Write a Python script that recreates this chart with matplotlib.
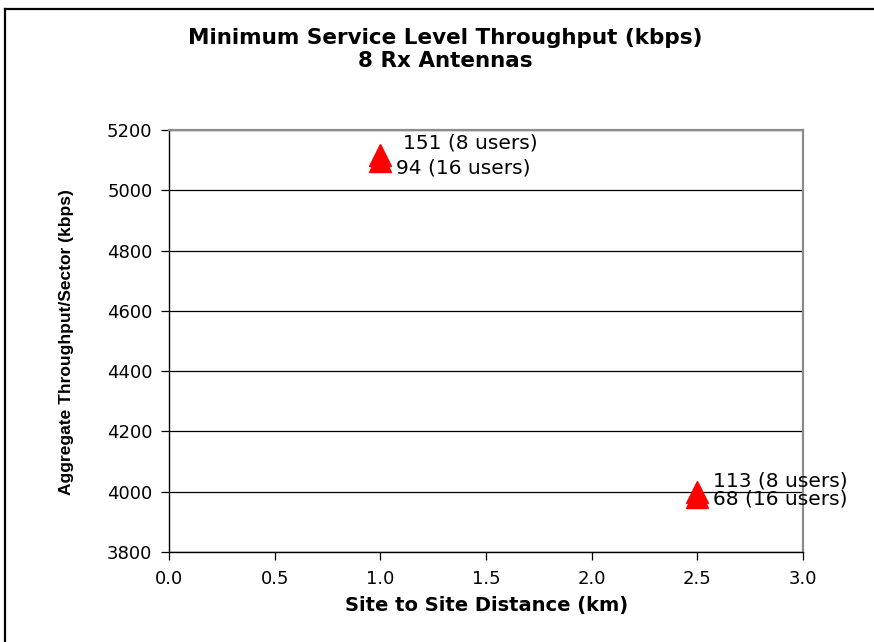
import matplotlib
matplotlib.use("Agg")
import matplotlib.pyplot as plt
from matplotlib.lines import Line2D

distance_km = [1.0, 2.5]
throughput_8_users = [5117, 4000]
throughput_16_users = [5098, 3982]
labels_8_users = ["151 (8 users)", "113 (8 users)"]
labels_16_users = ["94 (16 users)", "68 (16 users)"]
y_ticks = [3800, 4000, 4200, 4400, 4600, 4800, 5000, 5200]
x_ticks = [0.0, 0.5, 1.0, 1.5, 2.0, 2.5, 3.0]

plt.rcParams['font.family'] = ['DejaVu Sans']

W, H = 874, 642
fig = plt.figure(figsize=(W / 100, H / 100), dpi=100)
fig.patch.set_facecolor("white")

# outer frame (left and top edges visible)
fig.add_artist(Line2D([5 / W, 5 / W], [0, 1 - 9 / H], transform=fig.transFigure,
                      color="black", lw=1.6))
fig.add_artist(Line2D([5 / W, 1], [1 - 9 / H, 1 - 9 / H], transform=fig.transFigure,
                      color="black", lw=1.6))

ax = fig.add_axes([169 / W, 1 - 552 / H, (803 - 169) / W, (552 - 130) / H])
ax.set_xlim(0, 3.0)
ax.set_ylim(3800, 5200)
ax.set_xticks(x_ticks)
ax.set_xticklabels([f"{v:.1f}" for v in x_ticks])
ax.set_yticks(y_ticks)
ax.set_yticklabels([str(v) for v in y_ticks])
ax.grid(axis="y", color="black", lw=0.9)
ax.set_axisbelow(True)

for s in ["left", "bottom"]:
    ax.spines[s].set_color("black")
    ax.spines[s].set_linewidth(1.0)
for s in ["top", "right"]:
    ax.spines[s].set_color("#8c8c8c")
    ax.spines[s].set_linewidth(1.6)

ax.tick_params(axis="both", direction="out", length=6, width=0.9, labelsize=13,
               colors="black")
ax.tick_params(axis="x", pad=7)
ax.tick_params(axis="y", pad=6)

ax.plot(distance_km, throughput_8_users, linestyle="none", marker="^",
        ms=16, color="#ff0000", mec="#ff0000", clip_on=False, zorder=3)
ax.plot(distance_km, throughput_16_users, linestyle="none", marker="^",
        ms=16, color="#ff0000", mec="#ff0000", clip_on=False, zorder=3)

offsets_8 = [(16, 9), (11, 8)]
offsets_16 = [(11, -5), (11, -1)]
for x, y, t, off in zip(distance_km, throughput_8_users, labels_8_users, offsets_8):
    ax.annotate(t, (x, y), xytext=off, textcoords="offset points",
                ha="left", va="center", fontsize=14.5, annotation_clip=False)
for x, y, t, off in zip(distance_km, throughput_16_users, labels_16_users, offsets_16):
    ax.annotate(t, (x, y), xytext=off, textcoords="offset points",
                ha="left", va="center", fontsize=14.5, annotation_clip=False)

fig.text(445 / W, 1 - 38 / H, "Minimum Service Level Throughput (kbps)",
         ha="center", va="center", fontsize=15.5, fontweight="bold")
fig.text(445 / W, 1 - 61 / H, "8 Rx Antennas",
         ha="center", va="center", fontsize=15.5, fontweight="bold")
fig.text(487 / W, 1 - 606 / H, "Site to Site Distance (km)",
         ha="center", va="center", fontsize=14, fontweight="bold")
fig.text(67 / W, 1 - 342 / H, "Aggregate Throughput/Sector (kbps)",
         ha="center", va="center", fontsize=12.5, fontweight="bold",
         rotation=90, family=["Liberation Sans"])

fig.savefig("out.png", dpi=100, facecolor="white")
